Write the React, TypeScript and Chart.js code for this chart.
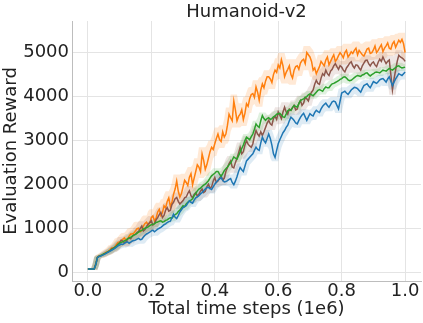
import React, { useEffect, useRef } from "react";
import { Chart, registerables } from "chart.js";

Chart.register(...registerables);

const TITLE = "Humanoid-v2";
const X_LABEL = "Total time steps (1e6)";
const Y_LABEL = "Evaluation Reward";
const X_TICKS = [0, 0.2, 0.4, 0.6, 0.8, 1.0];
const Y_TICKS = [0, 1000, 2000, 3000, 4000, 5000];

// evaluation every 0.005 (x 1e6 steps), 201 points, 10 per row
const orangeReward = [
  86, 86, 86, 86, 86, 200, 350, 380, 390, 405,
  430, 455, 470, 490, 520, 560, 560, 590, 640, 690,
  700, 720, 760, 790, 740, 770, 830, 880, 880, 900,
  950, 1000, 1010, 930, 960, 1060, 1120, 1150, 1080, 1130,
  1250, 1290, 1180, 1240, 1380, 1440, 1300, 1360, 1520, 1470,
  1620, 1700, 1500, 1600, 1780, 1900, 2080, 1850, 1720, 1800,
  1950, 2100, 2050, 1980, 2170, 2250, 2000, 2150, 2300, 2450,
  2400, 2300, 2700, 2550, 2350, 2450, 2600, 2750, 2850, 2800,
  2930, 3050, 3150, 3020, 2980, 3200, 3080, 3150, 3350, 3600,
  3520, 3450, 3900, 3700, 3450, 3550, 3600, 3700, 3480, 3620,
  3840, 3780, 3950, 4050, 4070, 3980, 4220, 4100, 3920, 4150,
  4290, 4200, 4350, 4450, 4450, 4400, 4320, 4500, 4600, 4550,
  4720, 4650, 4840, 4700, 4450, 4550, 4620, 4700, 4500, 4420,
  4600, 4680, 4700, 4620, 4760, 4820, 4850, 4750, 5000, 4950,
  4900, 4800, 4600, 4650, 4520, 4600, 4680, 4800, 4750, 4700,
  4830, 4900, 4720, 4800, 4880, 4950, 4800, 4850, 4930, 5000,
  4950, 4880, 5000, 5050, 4900, 4950, 5020, 4980, 5050, 5100,
  4950, 5050, 5000, 4950, 4920, 5000, 5080, 5100, 4980, 5000,
  5060, 5150, 5000, 5050, 5120, 5180, 5020, 5100, 5150, 5220,
  5100, 5080, 5200, 5250, 5120, 5200, 5280, 5230, 5300, 5200,
  5000,
];

const brownReward = [
  86, 86, 86, 86, 86, 190, 345, 375, 385, 400,
  420, 445, 460, 485, 500, 540, 560, 580, 610, 650,
  680, 740, 720, 680, 700, 760, 790, 770, 830, 860,
  870, 920, 940, 1000, 1060, 950, 980, 1050, 1100, 1140,
  1180, 1080, 1120, 1200, 1250, 1320, 1370, 1250, 1300, 1420,
  1480, 1400, 1420, 1550, 1600, 1680, 1710, 1620, 1560, 1600,
  1640, 1700, 1720, 1800, 1860, 1750, 1700, 1780, 1820, 1740,
  1780, 1850, 1900, 1820, 1850, 1950, 2010, 1920, 1950, 2080,
  2160, 2050, 2080, 2150, 2200, 2100, 2150, 2300, 2390, 2480,
  2540, 2400, 2380, 2500, 2600, 2720, 2850, 2700, 2750, 2900,
  3000, 2920, 2880, 2850, 2930, 3100, 3230, 3150, 3100, 3200,
  3120, 3200, 3300, 3400, 3460, 3380, 3350, 3500, 3550, 3480,
  3650, 3580, 3500, 3650, 3760, 3650, 3600, 3720, 3690, 3750,
  3800, 3700, 3720, 3850, 3910, 3800, 3850, 3980, 3950, 3900,
  4030, 4100, 4150, 4280, 4370, 4300, 4280, 4420, 4520, 4480,
  4600, 4520, 4480, 4580, 4620, 4700, 4750, 4680, 4620, 4700,
  4670, 4600, 4560, 4650, 4700, 4760, 4790, 4700, 4650, 4720,
  4710, 4650, 4600, 4700, 4760, 4820, 4830, 4750, 4700, 4760,
  4790, 4720, 4680, 4780, 4850, 4800, 4900, 4820, 4750, 4800,
  4830, 4500, 4150, 4400, 4600, 4800, 4940, 4900, 4880, 4850,
  4800,
];

const greenReward = [
  86, 86, 86, 86, 86, 190, 345, 372, 385, 405,
  425, 440, 460, 480, 500, 525, 550, 575, 600, 640,
  670, 690, 700, 725, 740, 770, 790, 805, 830, 855,
  870, 895, 920, 945, 960, 990, 1010, 1025, 1040, 1070,
  1090, 1100, 1110, 1140, 1150, 1170, 1180, 1150, 1160, 1190,
  1200, 1230, 1250, 1240, 1280, 1320, 1340, 1390, 1420, 1470,
  1520, 1500, 1560, 1600, 1630, 1650, 1680, 1750, 1800, 1860,
  1900, 1920, 1960, 1990, 2010, 2050, 2090, 2150, 2200, 2230,
  2260, 2300, 2300, 2240, 2190, 2250, 2320, 2360, 2400, 2450,
  2490, 2560, 2630, 2600, 2580, 2660, 2740, 2820, 2900, 3000,
  3080, 3050, 3020, 3090, 3150, 3260, 3380, 3330, 3300, 3450,
  3570, 3500, 3460, 3500, 3520, 3480, 3500, 3540, 3560, 3600,
  3610, 3620, 3580, 3540, 3530, 3600, 3680, 3700, 3690, 3750,
  3800, 3780, 3760, 3840, 3910, 3930, 3950, 3980, 4000, 4040,
  4060, 4040, 4020, 4060, 4100, 4140, 4160, 4140, 4120, 4180,
  4220, 4200, 4200, 4250, 4290, 4300, 4320, 4340, 4360, 4390,
  4410, 4440, 4450, 4420, 4380, 4360, 4370, 4400, 4430, 4460,
  4480, 4470, 4460, 4490, 4500, 4530, 4540, 4500, 4470, 4500,
  4520, 4550, 4560, 4550, 4540, 4570, 4600, 4590, 4580, 4610,
  4640, 4620, 4600, 4630, 4660, 4690, 4700, 4670, 4650, 4660,
  4670,
];

const blueReward = [
  86, 86, 86, 86, 86, 185, 340, 368, 380, 395,
  410, 430, 450, 470, 490, 510, 530, 555, 580, 610,
  630, 650, 640, 665, 690, 700, 670, 695, 720, 730,
  740, 765, 780, 750, 760, 810, 850, 880, 900, 920,
  950, 965, 930, 960, 990, 1010, 1030, 1060, 1090, 1110,
  1140, 1160, 1170, 1250, 1330, 1260, 1230, 1300, 1380, 1430,
  1480, 1500, 1520, 1580, 1630, 1600, 1580, 1650, 1700, 1720,
  1750, 1790, 1820, 1860, 1900, 1930, 1940, 1910, 1890, 1950,
  2010, 2060, 2100, 2130, 2160, 2100, 2060, 2070, 2090, 2120,
  2140, 2050, 2000, 2080, 2180, 2300, 2390, 2340, 2300, 2420,
  2540, 2580, 2620, 2660, 2700, 2780, 2850, 2800, 2780, 2950,
  3080, 3000, 2950, 3050, 3150, 3050, 2900, 2700, 2620, 2780,
  2930, 3020, 3100, 3180, 3230, 3300, 3350, 3450, 3530, 3500,
  3460, 3400, 3380, 3460, 3530, 3580, 3620, 3540, 3460, 3540,
  3610, 3580, 3560, 3640, 3690, 3660, 3640, 3720, 3780, 3820,
  3850, 3800, 3760, 3820, 3880, 3900, 3880, 3800, 3720, 3900,
  4080, 4100, 4120, 4080, 4050, 4100, 4150, 4180, 4210, 4200,
  4180, 4140, 4100, 4180, 4250, 4270, 4290, 4240, 4200, 4270,
  4340, 4320, 4300, 4340, 4380, 4400, 4410, 4370, 4330, 4400,
  4450, 4350, 4250, 4330, 4400, 4460, 4520, 4500, 4480, 4520,
  4560,
];

const SERIES = [
  { values: blueReward, color: "#1f77b4", band: "rgba(31,119,180,0.15)", pad: 90 },
  { values: greenReward, color: "#2ca02c", band: "rgba(44,160,44,0.15)", pad: 70 },
  { values: brownReward, color: "#8c564b", band: "rgba(140,86,75,0.15)", pad: 110 },
  { values: orangeReward, color: "#ff7f0e", band: "rgba(255,127,14,0.17)", pad: 150 },
];

const FONT = '"DejaVu Sans", sans-serif';
const TEXT = "#222222";

const titlePlugin = {
  id: "topTitle",
  afterDraw(chart: any) {
    const { ctx, chartArea } = chart;
    ctx.save();
    ctx.font = `18px ${FONT}`;
    ctx.fillStyle = TEXT;
    ctx.textAlign = "center";
    ctx.textBaseline = "alphabetic";
    ctx.fillText(TITLE, (chartArea.left + chartArea.right) / 2, 17);
    ctx.restore();
  },
};

export default function App() {
  const ref = useRef<HTMLCanvasElement | null>(null);

  useEffect(() => {
    if (!ref.current) return;
    const xs = orangeReward.map((_, i) => i / 200);
    const datasets: any[] = [];
    SERIES.forEach((s) => {
      const n = s.values.length;
      const win = (i: number) => {
        const out: number[] = [];
        for (let j = Math.max(0, i - 2); j <= Math.min(n - 1, i + 2); j++) out.push(s.values[j]);
        return out;
      };
      const ramp = (i: number) => Math.min(1, xs[i] / 0.15);
      const upper = s.values.map((_, i) => ({ x: xs[i], y: Math.max(...win(i)) + s.pad * ramp(i) }));
      const lower = s.values.map((_, i) => ({ x: xs[i], y: Math.min(...win(i)) - s.pad * ramp(i) }));
      datasets.push({ data: upper, borderWidth: 0, pointRadius: 0, backgroundColor: s.band, fill: "+1", order: 100 });
      datasets.push({ data: lower, borderWidth: 0, pointRadius: 0, fill: false, order: 100 });
    });
    const lineOrder = [1, 2, 3, 4];
    SERIES.forEach((s, k) => {
      datasets.push({
        data: s.values.map((v, i) => ({ x: xs[i], y: v })),
        borderColor: s.color,
        borderWidth: 1.5,
        pointRadius: 0,
        fill: false,
        tension: 0,
        order: lineOrder[k],
      });
    });

    const chart = new Chart(ref.current, {
      type: "line",
      data: { datasets },
      plugins: [titlePlugin],
      options: {
        animation: false,
        responsive: false,
        devicePixelRatio: 1,
        layout: { padding: { top: 21, right: 2, left: 0, bottom: 0 } },
        plugins: {
          legend: { display: false },
          tooltip: { enabled: false },
          title: { display: false },
        },
        scales: {
          x: {
            type: "linear",
            min: -0.05,
            max: 1.05,
            afterBuildTicks: (scale: any) => {
              scale.ticks = X_TICKS.map((v) => ({ value: v }));
            },
            afterFit: (scale: any) => {
              scale.height = 42;
            },
            ticks: {
              callback: (v: any) => Number(v).toFixed(1),
              font: { family: FONT, size: 18 },
              color: TEXT,
              padding: 0,
              maxRotation: 0,
              autoSkip: false,
            },
            grid: { color: "#e4e4e4", lineWidth: 1, drawTicks: false },
            border: { display: true, color: "#bdbdbd", width: 1 },
            title: {
              display: true,
              text: X_LABEL,
              font: { family: FONT, size: 18 },
              color: TEXT,
              padding: { top: 0, bottom: 3 },
            },
          },
          y: {
            type: "linear",
            min: -188,
            max: 5717,
            afterBuildTicks: (scale: any) => {
              scale.ticks = Y_TICKS.map((v) => ({ value: v }));
            },
            afterFit: (scale: any) => {
              scale.width = 72;
            },
            ticks: {
              callback: (v: any) => String(v),
              font: { family: FONT, size: 18 },
              color: TEXT,
              padding: 3,
              autoSkip: false,
            },
            grid: { color: "#e4e4e4", lineWidth: 1, drawTicks: false },
            border: { display: true, color: "#bdbdbd", width: 1 },
            title: {
              display: true,
              text: Y_LABEL,
              font: { family: FONT, size: 18 },
              color: TEXT,
              padding: { top: 1, bottom: 0 },
            },
          },
        },
      },
    } as any);
    return () => chart.destroy();
  }, []);

  return (
    <div style={{ position: "absolute", left: 0, top: 0, width: 423, height: 323, background: "#fff" }}>
      <canvas ref={ref} width={423} height={323} />
    </div>
  );
}
